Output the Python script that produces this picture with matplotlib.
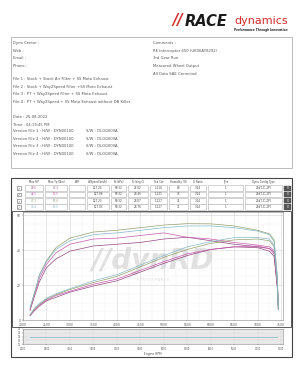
import matplotlib
matplotlib.use("Agg")
import matplotlib.pyplot as plt
from matplotlib.patches import Rectangle
from matplotlib.ticker import MultipleLocator

# ---- header info ----
left_info = ["Dyno Center :", "Web :", "Email :", "Phone :"]
right_info = ["Comments :", "RE Interceptor 650 (UK06AY8292)", "3rd Gear Run",
              "Measured Wheel Output", "All Data SAE Corrected"]
file_info = ["File 1 : Stock + Stock Air Filter + SS Moto Exhaust",
             "File 2 : Stock + Way2Speed Filter +SS Moto Exhaust",
             "File 3 : PT + Way2Speed Filter + SS Moto Exhaust",
             "File 4 : PT + Way2Speed + SS Moto Exhaust without DB Killer"]
date_info = ["Date : 26-08-2022", "Time : 04:19:45 PM"]
version_info = ["Version File %d : H/W : DYN00100" % i for i in range(1, 5)]
sw_info = "S/W : DLOG009A"

# ---- summary table ----
table_cols = ["Max HP", "Max Tq (Nm)", "AFR", "W/Speed(km/h)", "P=(kPa)", "T=(deg C)",
              "Std Cor", "Humidity (%)", "G Ratio", "Tyre", "Dyno Config Type"]
table_rows = [
    ["40.5", "47.1", "", "127.24", "90.32", "27.02", "1.116", "68", "3.24", "1", "2EdT-IC-2PI"],
    ["42.5", "50.5", "", "127.06", "90.32", "28.46", "1.121", "73", "3.24", "1", "2EdT-IC-2PI"],
    ["47.1", "50.4", "", "127.23", "90.32", "28.07", "1.127", "71", "3.24", "1", "2EdT-IC-2PI"],
    ["46.4", "50.5", "", "127.03", "90.32", "28.76", "1.127", "71", "3.24", "1", "2EdT-IC-2PI"],
]
file_colors = ["#94477f", "#c95aae", "#939f6c", "#86b9c8"]

# ---- dyno curves ----
rpm = [2150, 2250, 2350, 2500, 2700, 3000, 3500, 4000, 4500, 5000,
       5500, 6000, 6500, 7000, 7250, 7350, 7420, 7440]
tq_file1 = [5.5, 14, 22, 30, 35, 39.5, 42.5, 43.5, 44.5, 46.5, 47.5, 45.5, 43.5, 42, 41, 39, 20, 9]
tq_file2 = [6, 15, 24, 32, 38.5, 43.5, 46.5, 47, 48.5, 50, 47.5, 46.5, 44.5, 43, 42, 40, 22, 9]
tq_file3 = [7, 16, 26, 34, 41.5, 47, 50.5, 51.5, 53, 54.5, 55.3, 55.2, 54, 51.5, 49.5, 46, 25, 8]
tq_file4 = [7, 16, 25.5, 33.5, 40.5, 45.5, 49, 50, 51.5, 53, 54, 54, 53, 51, 49, 45, 24, 8]
hp_file1 = [2.5, 5.5, 8, 11, 13, 16, 19.5, 22.5, 27.5, 32.5, 37, 40.5, 42, 41.5, 39.5, 36.5, 18, 6]
hp_file2 = [2.5, 6, 8.5, 11.5, 14, 16.5, 20.5, 23.5, 28.5, 33.5, 38, 40.5, 42, 42.5, 41, 38, 19, 6]
hp_file3 = [3, 6.5, 9, 12, 14.5, 17.5, 21.5, 25, 30.5, 36, 40.5, 44, 46, 46.5, 45.5, 42, 21, 6]
hp_file4 = [3, 7, 9.5, 12.5, 15, 18, 22.5, 26, 31.5, 37, 42, 45, 47.3, 47.3, 46.5, 43, 22, 6]
tq_curves = [tq_file1, tq_file2, tq_file3, tq_file4]
hp_curves = [hp_file1, hp_file2, hp_file3, hp_file4]

afr_rpm = [2150, 7420]
afr_val = [14.0, 14.0]

W, H = 300, 375
fig = plt.figure(figsize=(3, 3.75), dpi=100)
fig.patch.set_facecolor("white")


def px(x, y):
    return x / W, 1 - y / H


def box(x0, y0, x1, y1, ec="#999999", fc="none", lw=0.6):
    fig.patches.append(Rectangle(px(x0, y1), (x1 - x0) / W, (y1 - y0) / H,
                                 transform=fig.transFigure, ec=ec, fc=fc, lw=lw))


def txt(x, y, s, size=2.7, color="#555555", **kw):
    fig.text(*px(x, y), s, fontsize=size, color=color, va="center", **kw)


# logo
txt(172, 21, "//", size=10.5, color="#d42a2a", weight="bold", style="italic")
txt(185, 21, "RACE", size=10.5, color="#1a1a1a", weight="heavy", style="italic")
txt(234, 21, "dynamics", size=8, color="#d42a2a")
txt(288, 30, "Performance Through Innovation", size=2.1, color="#222222",
    weight="bold", style="italic", ha="right")

# info box
box(11, 37, 292, 168, ec="#b0b0b0")
for i, s in enumerate(left_info):
    txt(13, 43 + i * 7.7, s)
for i, s in enumerate(right_info):
    txt(153, 43 + i * 7.7, s)
for i, s in enumerate(file_info):
    txt(13, 79 + i * 7.6, s)
for i, s in enumerate(date_info):
    txt(13, 117 + i * 7.5, s)
for i, s in enumerate(version_info):
    txt(13, 131 + i * 7.6, s)
    txt(86, 131 + i * 7.6, sw_info)

# table + chart panel
box(11, 178, 292, 357, ec="#444444", lw=0.8)
edges = [24, 44, 68, 86, 110, 127, 149, 168, 189, 207, 244, 283]
row_y = [185, 191.3, 197.6, 203.9, 210.2]
for j, c in enumerate(table_cols):
    txt((edges[j] + edges[j + 1]) / 2, 181.8, c, size=1.9, color="#444444", ha="center")
for i, row in enumerate(table_rows):
    y0, y1 = row_y[i], row_y[i + 1]
    box(16.5, (y0 + y1) / 2 - 1.8, 20.5, (y0 + y1) / 2 + 1.8, ec="#666666", lw=0.4)
    txt(18.5, (y0 + y1) / 2, "✓", size=2.2, color="#444444", ha="center")
    for j, v in enumerate(row):
        box(edges[j] + 1, y0 + 0.4, edges[j + 1] - 1, y1 - 0.4, ec="#b0b0b0", fc="white", lw=0.4)
        col = file_colors[i] if j < 2 else "#444444"
        txt((edges[j] + edges[j + 1]) / 2, (y0 + y1) / 2, v, size=2.0, color=col, ha="center")
    box(284, y0 + 0.5, 291, y1 - 0.5, ec="#555555", fc="#555555", lw=0.3)
    txt(287.5, (y0 + y1) / 2, "X", size=2.0, color="white", ha="center")
box(12, 210.5, 291, 327, ec="#444444", lw=0.6)

# main chart
ax = fig.add_axes([23 / W, 1 - 320 / H, 260 / W, 108 / H])
ax.set_xlim(2000, 7540)
ax.set_ylim(0, 62)
ax.xaxis.set_major_locator(MultipleLocator(500))
ax.xaxis.set_minor_locator(MultipleLocator(250))
ax.yaxis.set_major_locator(MultipleLocator(20))
ax.yaxis.set_minor_locator(MultipleLocator(5))
ax.grid(which="major", color="#d4d4d4", lw=0.4)
ax.grid(which="minor", color="#ededed", lw=0.3)
ax.tick_params(labelsize=2.2, length=0.8, width=0.3, pad=1, colors="#555555")
ax.tick_params(which="minor", length=0)
for sp in ax.spines.values():
    sp.set_color("#888888")
    sp.set_linewidth(0.4)
ax.text(0.5, 0.55, "//dynRD", transform=ax.transAxes, fontsize=20, color="#e0e0e0",
        weight="bold", style="italic", ha="center", va="center", zorder=0)
ax.text(0.5, 0.37, "P E R F O R M A N C E", transform=ax.transAxes, fontsize=2.2,
        color="#d8d8d8", ha="center", va="center", zorder=0)
for c, tq, hp in zip(file_colors, tq_curves, hp_curves):
    ax.plot(rpm, tq, color=c, lw=0.5)
    ax.plot(rpm, hp, color=c, lw=0.5)

# AFR strip
ax2 = fig.add_axes([23 / W, 1 - 344 / H, 260 / W, 15 / H])
ax2.set_facecolor("#e9e9e9")
ax2.set_xlim(2000, 7540)
ax2.set_ylim(12, 16)
ax2.xaxis.set_major_locator(MultipleLocator(500))
ax2.set_yticks([12, 13, 14, 15, 16])
ax2.grid(color="#d6d6d6", lw=0.3)
ax2.tick_params(labelsize=1.8, length=0.8, width=0.3, pad=1, colors="#555555")
for sp in ax2.spines.values():
    sp.set_color("#888888")
    sp.set_linewidth(0.4)
ax2.plot(afr_rpm, afr_val, color="#86b9c8", lw=0.5)
ax2.set_xlabel("Engine RPM", fontsize=2.2, labelpad=1, color="#555555")

fig.savefig("out.png", dpi=100)
